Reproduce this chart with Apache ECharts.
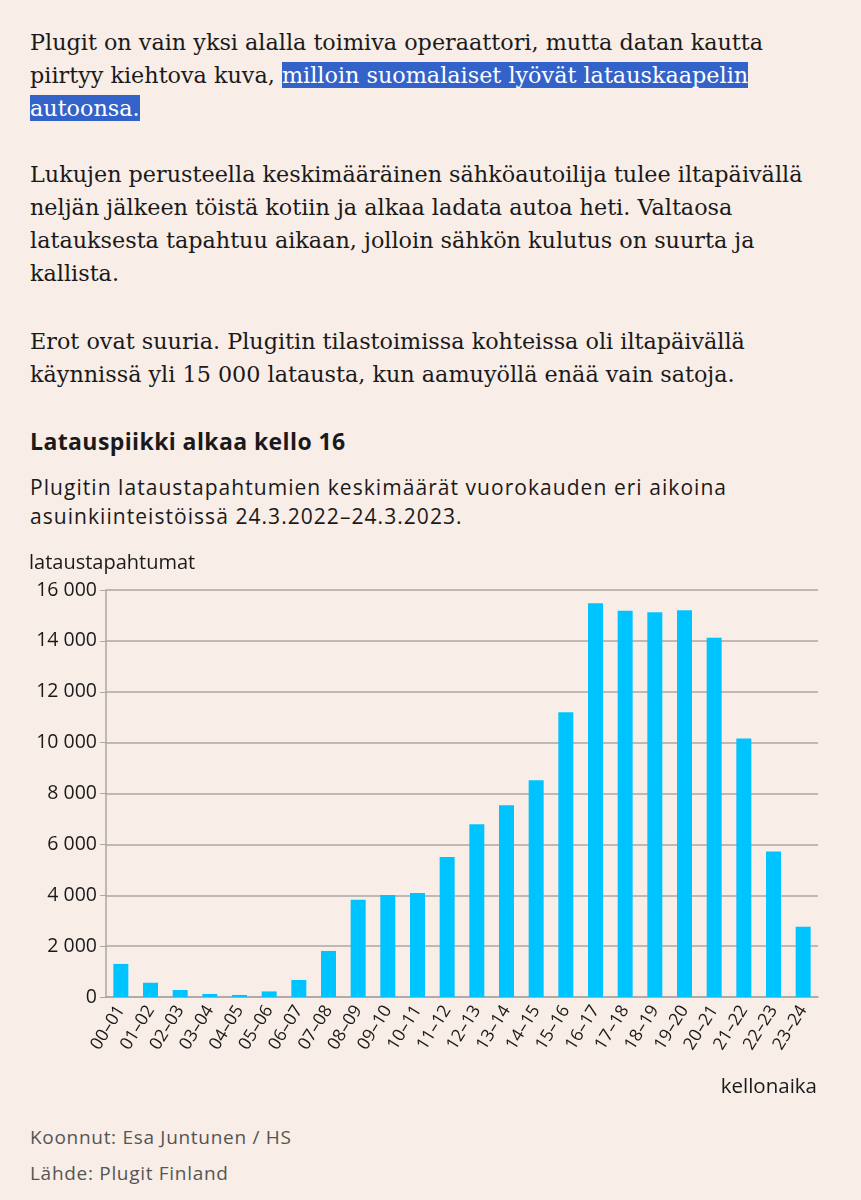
<!DOCTYPE html>
<html>
<head>
<meta charset="utf-8">
<script src="https://cdn.jsdelivr.net/npm/echarts@6/dist/echarts.min.js"></script>
<style>
  html, body { margin: 0; padding: 0; background: #f9ede7; }
  body { width: 861px; height: 1200px; position: relative; overflow: hidden; color: #1a1a1a; }
  .prose { position: absolute; left: 30px; font-family: "DejaVu Serif", serif; font-size: 22.3px; line-height: 33px; white-space: nowrap; }
  .hl { background: #3362c9; color: #fff; }
  .title { position: absolute; left: 30px; top: 425px; font-family: "Open Sans", sans-serif; font-weight: 700; font-size: 23px; letter-spacing: 0.4px; }
  .sub { position: absolute; left: 30px; top: 473px; font-family: "Open Sans", sans-serif; font-size: 21px; line-height: 29px; letter-spacing: 1.05px; white-space: nowrap; }
  .foot { position: absolute; left: 30px; font-family: "Open Sans", sans-serif; font-size: 19px; color: #555; letter-spacing: 0.7px; }
  #chart { position: absolute; left: 0; top: 550px; width: 861px; height: 560px; }
</style>
</head>
<body>
<div class="prose" style="top:26px">Plugit on vain yksi alalla toimiva operaattori, mutta datan kautta<br>piirtyy kiehtova kuva, <span class="hl">milloin suomalaiset lyövät latauskaapelin<br>autoonsa.</span></div>
<div class="prose" style="top:158px">Lukujen perusteella keskimääräinen sähköautoilija tulee iltapäivällä<br>neljän jälkeen töistä kotiin ja alkaa ladata autoa heti. Valtaosa<br>latauksesta tapahtuu aikaan, jolloin sähkön kulutus on suurta ja<br>kallista.</div>
<div class="prose" style="top:325px">Erot ovat suuria. Plugitin tilastoimissa kohteissa oli iltapäivällä<br>käynnissä yli 15 000 latausta, kun aamuyöllä enää vain satoja.</div>
<div class="title">Latauspiikki alkaa kello 16</div>
<div class="sub">Plugitin lataustapahtumien keskimäärät vuorokauden eri aikoina<br>asuinkiinteistöissä 24.3.2022–24.3.2023.</div>
<div id="chart"></div>
<div class="foot" style="top:1124px">Koonnut: Esa Juntunen / HS</div>
<div class="foot" style="top:1160px">Lähde: Plugit Finland</div>
<script>
// hour ranges
const hours = ["00–01","01–02","02–03","03–04","04–05","05–06","06–07","07–08","08–09","09–10","10–11","11–12",
  "12–13","13–14","14–15","15–16","16–17","17–18","18–19","19–20","20–21","21–22","22–23","23–24"];
// average charging events per hour
const charges = [1300, 560, 275, 120, 80, 220, 670, 1810, 3820, 4005, 4085, 5500,
  6790, 7540, 8520, 11190, 15480, 15180, 15130, 15200, 14120, 10160, 5720, 2760];
const yTicks = { min: 0, max: 16000, interval: 2000 };

const fmt = v => String(v).replace(/\B(?=(\d{3})+(?!\d))/g, "\u00a0");
const grey = "#aca6a4";

const chart = echarts.init(document.getElementById("chart"), null, { renderer: "canvas" });
chart.setOption({
  animation: false,
  grid: { left: 106, right: 43, top: 40, bottom: 113 },
  graphic: [
    { type: "text", left: 29, top: 3, style: { text: "lataustapahtumat", font: "20px 'Open Sans'", fill: "#1a1a1a" } },
    { type: "text", right: 44, top: 527, style: { text: "kellonaika", font: "20.5px 'Open Sans'", fill: "#1a1a1a" } }
  ],
  xAxis: {
    type: "category",
    data: hours,
    axisLine: { lineStyle: { color: grey, width: 1.5 } },
    axisTick: { alignWithLabel: true, length: 8, lineStyle: { color: grey } },
    axisLabel: { rotate: 58, color: "#1a1a1a", fontFamily: "Open Sans", fontSize: 17.5, margin: 10, interval: 0 }
  },
  yAxis: {
    type: "value",
    min: yTicks.min, max: yTicks.max, interval: yTicks.interval,
    axisLine: { show: true, lineStyle: { color: grey, width: 1.5 } },
    axisTick: { show: true, length: 6, lineStyle: { color: grey } },
    splitLine: { lineStyle: { color: grey, width: 1.5 } },
    axisLabel: { color: "#1a1a1a", fontFamily: "Open Sans", fontSize: 19.5, margin: 9, formatter: fmt }
  },
  series: [{
    type: "bar",
    data: charges,
    barWidth: 15,
    itemStyle: { color: "#00c4ff" }
  }]
});
</script>
</body>
</html>
